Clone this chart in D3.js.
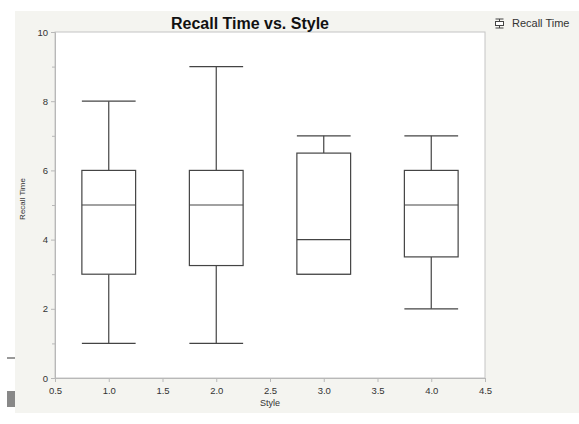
<!DOCTYPE html>
<html lang="en">
<head>
<meta charset="utf-8"/>
<script src="https://d3js.org/d3.v7.min.js"></script>
<style>
  body { margin: 0; background: #fff; }
  text { font-family: "Liberation Sans", Arial, sans-serif; fill: #333; }
  .tick text { font-size: 9.5px; }
  .axis path, .axis line { stroke: #b8b8b8; }
  .box { fill: #fff; stroke: #444; stroke-width: 1.2px; }
</style>
</head>
<body>
<svg id="chart" width="579" height="424"></svg>
<script>
  // box plot summaries
  const styles = [1, 2, 3, 4];
  const mins = [1, 1, 3, 2];
  const q1s = [3, 3.25, 3, 3.5];
  const medians = [5, 5, 4, 5];
  const q3s = [6, 6, 6.5, 6];
  const maxs = [8, 9, 7, 7];
  const xTicks = [0.5, 1, 1.5, 2, 2.5, 3, 3.5, 4, 4.5];
  const yTicks = [0, 2, 4, 6, 8, 10];
  const yMinor = [1, 3, 5, 7, 9];

  const svg = d3.select("#chart");
  const plotL = 55, plotR = 485, plotT = 32, plotB = 378;

  // grey panel
  svg.append("rect").attr("x", 15).attr("y", 11).attr("width", 564).attr("height", 402)
    .style("fill", "#f4f4f0");
  // small leftover marks at the left edge
  svg.append("line").attr("x1", 7).attr("x2", 15).attr("y1", 358).attr("y2", 358)
    .style("stroke", "#777").style("stroke-width", 1.5);
  svg.append("rect").attr("x", 7).attr("y", 391).attr("width", 8).attr("height", 16)
    .style("fill", "#888");

  const x = d3.scaleLinear().domain([0.5, 4.5]).range([plotL, plotR]);
  const y = d3.scaleLinear().domain([0, 10]).range([plotB, plotT]);

  svg.append("rect").attr("x", plotL).attr("y", plotT)
    .attr("width", plotR - plotL).attr("height", plotB - plotT)
    .style("fill", "#fff").style("stroke", "#c4c4c4");

  const xAxis = svg.append("g").attr("class", "axis")
    .attr("transform", "translate(0," + plotB + ")")
    .call(d3.axisBottom(x).tickValues(xTicks).tickFormat(d3.format(".1f")).tickSizeOuter(0).tickSize(4));
  xAxis.selectAll("text").attr("dy", "0.9em");

  svg.append("g").attr("class", "axis")
    .attr("transform", "translate(" + plotL + ",0)")
    .call(d3.axisLeft(y).tickValues(yMinor).tickFormat("").tickSize(3).tickSizeOuter(0));
  svg.append("g").attr("class", "axis")
    .attr("transform", "translate(" + plotL + ",0)")
    .call(d3.axisLeft(y).tickValues(yTicks).tickSize(4).tickSizeOuter(0));

  const bw = x(1.25) - x(0.75);
  const g = svg.append("g");
  styles.forEach(function(s, i) {
    const cx = x(s);
    g.append("line").attr("x1", cx).attr("x2", cx).attr("y1", y(maxs[i])).attr("y2", y(q3s[i]))
      .style("stroke", "#444").style("stroke-width", 1.2);
    g.append("line").attr("x1", cx).attr("x2", cx).attr("y1", y(q1s[i])).attr("y2", y(mins[i]))
      .style("stroke", "#444").style("stroke-width", 1.2);
    g.append("line").attr("x1", cx - bw / 2).attr("x2", cx + bw / 2).attr("y1", y(maxs[i])).attr("y2", y(maxs[i]))
      .style("stroke", "#444").style("stroke-width", 1.2);
    g.append("line").attr("x1", cx - bw / 2).attr("x2", cx + bw / 2).attr("y1", y(mins[i])).attr("y2", y(mins[i]))
      .style("stroke", "#444").style("stroke-width", 1.2);
    g.append("rect").attr("class", "box").attr("x", cx - bw / 2).attr("y", y(q3s[i]))
      .attr("width", bw).attr("height", y(q1s[i]) - y(q3s[i]));
    g.append("line").attr("x1", cx - bw / 2).attr("x2", cx + bw / 2).attr("y1", y(medians[i])).attr("y2", y(medians[i]))
      .style("stroke", "#444").style("stroke-width", 1.2);
  });

  svg.append("text").attr("x", 250).attr("y", 29).attr("text-anchor", "middle")
    .style("font-size", "16px").style("font-weight", "bold").style("fill", "#111")
    .text("Recall Time vs. Style");
  svg.append("text").attr("x", 270).attr("y", 406).attr("text-anchor", "middle")
    .style("font-size", "9px").text("Style");
  svg.append("text").attr("transform", "translate(25,199) rotate(-90)").attr("text-anchor", "middle")
    .style("font-size", "8px").text("Recall Time");

  // legend
  const lg = svg.append("g").attr("transform", "translate(499.5,23.5)");
  lg.append("line").attr("x1", 0).attr("x2", 0).attr("y1", -4.5).attr("y2", 4.5).style("stroke", "#444");
  lg.append("line").attr("x1", -4).attr("x2", 4).attr("y1", -4.5).attr("y2", -4.5).style("stroke", "#444");
  lg.append("line").attr("x1", -4).attr("x2", 4).attr("y1", 4.5).attr("y2", 4.5).style("stroke", "#444");
  lg.append("rect").attr("x", -4).attr("y", -2).attr("width", 8).attr("height", 4)
    .style("fill", "#fff").style("stroke", "#444");
  lg.append("text").attr("x", 12.5).attr("y", 3.5).style("font-size", "11px").text("Recall Time");
</script>
</body>
</html>
